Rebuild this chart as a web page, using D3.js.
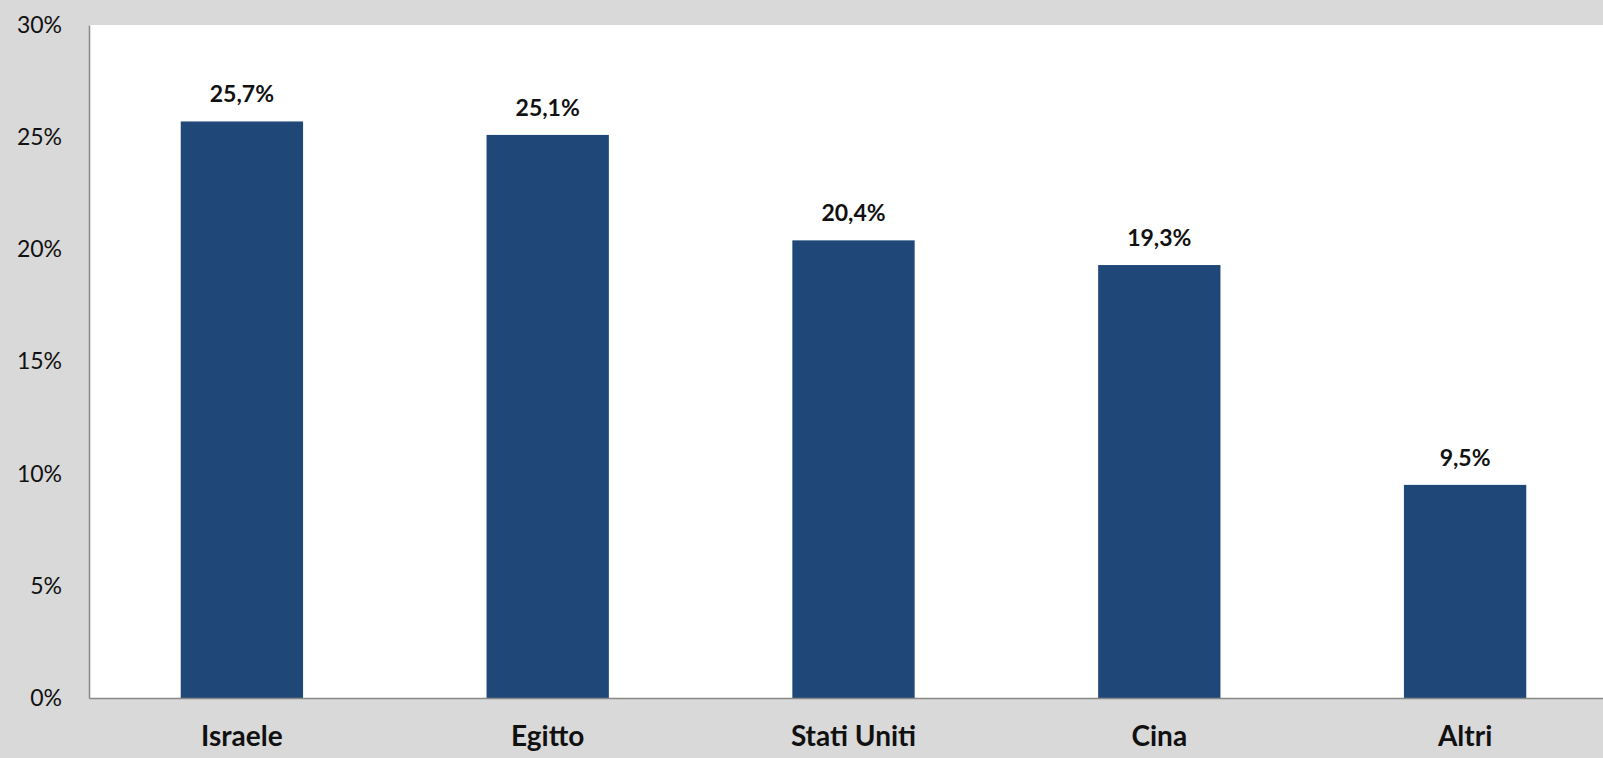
<!DOCTYPE html>
<html>
<head>
<meta charset="utf-8">
<script src="https://cdn.jsdelivr.net/npm/d3@7"></script>
<style>
  body { margin: 0; background: #d9d9d9; overflow: hidden; }
  svg { display: block; }
  text { font-family: Lato, "Open Sans", sans-serif; fill: #111; }
</style>
</head>
<body>
<svg id="chart" width="1603" height="758"></svg>
<script>
// data
var categories = ["Israele", "Egitto", "Stati Uniti", "Cina", "Altri"];
var values = [25.7, 25.1, 20.4, 19.3, 9.5];
var yTicks = [0, 5, 10, 15, 20, 25, 30];

var svg = d3.select("#chart");
var margin = { left: 89, top: 25, bottom: 60 };
var plotW = 1529;   // runs past the right edge, as in the picture
var plotH = 758 - margin.top - margin.bottom;

svg.append("rect")
    .attr("width", 1603).attr("height", 758)
    .attr("fill", "#d9d9d9");

var g = svg.append("g")
    .attr("transform", "translate(" + margin.left + "," + margin.top + ")");

var x = d3.scaleBand()
    .domain(categories)
    .range([0, plotW])
    .paddingInner(0.6)
    .paddingOuter(0.3);

var y = d3.scaleLinear()
    .domain([0, 30])
    .range([plotH, 0]);

// white plot area
g.append("rect")
    .attr("x", 0).attr("y", 0)
    .attr("width", plotW).attr("height", plotH)
    .attr("fill", "#fff");

// bars
g.selectAll(".bar")
    .data(values)
    .enter().append("rect")
    .attr("class", "bar")
    .attr("x", function (d, i) { return x(categories[i]); })
    .attr("y", function (d) { return y(d); })
    .attr("width", x.bandwidth())
    .attr("height", function (d) { return plotH - y(d); })
    .attr("fill", "#1f4878");

// value labels
g.selectAll(".val")
    .data(values)
    .enter().append("text")
    .attr("class", "val")
    .attr("x", function (d, i) { return x(categories[i]) + x.bandwidth() / 2; })
    .attr("y", function (d) { return y(d) - 28; })
    .attr("text-anchor", "middle")
    .attr("dominant-baseline", "central")
    .style("font-size", "23px")
    .style("font-weight", "bold")
    .text(function (d) { return d.toFixed(1).replace(".", ",") + "%"; });

// y axis
var yAxis = d3.axisLeft(y)
    .tickValues(yTicks)
    .tickSize(0)
    .tickPadding(27)
    .tickFormat(function (d) { return d + "%"; });

var ya = g.append("g").call(yAxis);
ya.select(".domain").attr("stroke", "#888").attr("stroke-width", 1.5);
ya.selectAll("text")
    .style("font-size", "23px")
    .style("font-family", "Lato, 'Open Sans', sans-serif")
    .attr("fill", "#111");

// x axis
var xAxis = d3.axisBottom(x)
    .tickSize(0)
    .tickPadding(28);

var xa = g.append("g")
    .attr("transform", "translate(0," + plotH + ")")
    .call(xAxis);
xa.select(".domain").attr("stroke", "#888").attr("stroke-width", 1.5);
xa.selectAll("text")
    .style("font-size", "28px")
    .style("font-weight", "bold")
    .style("font-family", "Lato, 'Open Sans', sans-serif")
    .attr("fill", "#111");
</script>
</body>
</html>
